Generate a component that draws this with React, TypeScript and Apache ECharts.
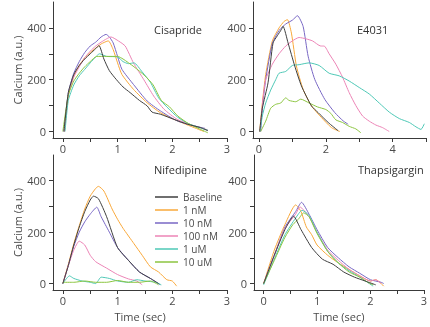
import React, { useEffect, useRef } from "react";
import * as echarts from "echarts";

const seriesNames = ["Baseline", "1 nM", "10 nM", "100 nM", "1 uM", "10 uM"];
const seriesColors = ["#3f3f3f", "#f9a83a", "#7867c4", "#ec84b6", "#4ec8b6", "#8cc540"];
const panelTitles = ["Cisapride", "E4031", "Nifedipine", "Thapsigargin"];
const xTicksShort = [0, 0.5, 1, 1.5, 2, 2.5, 3];
const xLabelsShort = [0, 1, 2, 3];
const xTicksLong = [0, 1, 2, 3, 4, 5];
const xLabelsLong = [0, 2, 4];
const yTicks = [0, 100, 200, 300, 400];
const yLabels = [0, 200, 400];

// Cisapride
const cisBaseline = [[0.02,0],[0.1,150],[0.2,220],[0.3,255],[0.4,280],[0.5,300],[0.6,320],[0.66,332],[0.75,280],[0.85,235],[0.98,200],[1.1,172],[1.23,150],[1.4,120],[1.54,99],[1.63,75],[1.78,67],[2.03,47],[2.28,28],[2.52,15],[2.65,3]];
const cis1nM = [[0.03,0],[0.1,140],[0.2,215],[0.3,255],[0.4,285],[0.5,305],[0.6,322],[0.7,338],[0.83,350],[0.92,316],[1.0,265],[1.08,220],[1.29,163],[1.54,111],[1.78,73],[2.03,47],[2.2,32],[2.4,15],[2.58,0]];
const cis10nM = [[0.02,0],[0.1,150],[0.2,225],[0.3,270],[0.4,305],[0.5,330],[0.6,345],[0.7,365],[0.79,375],[0.85,365],[0.92,342],[1.0,290],[1.08,240],[1.29,182],[1.54,118],[1.78,80],[2.09,41],[2.4,22],[2.6,12]];
const cis100nM = [[0.03,0],[0.1,140],[0.2,210],[0.3,250],[0.4,285],[0.5,310],[0.6,330],[0.7,345],[0.8,358],[0.88,365],[1.02,349],[1.14,330],[1.29,265],[1.48,200],[1.66,137],[1.85,86],[2.09,47],[2.4,22],[2.65,6]];
const cis1uM = [[0.04,0],[0.1,120],[0.2,180],[0.3,215],[0.4,240],[0.5,265],[0.6,288],[0.67,300],[0.8,290],[1.0,288],[1.1,270],[1.2,262],[1.3,265],[1.45,230],[1.6,190],[1.75,130],[1.9,95],[2.1,55],[2.3,30],[2.5,15],[2.65,5]];
const cis10uM = [[0.0,0],[0.1,140],[0.2,195],[0.3,225],[0.4,250],[0.5,270],[0.62,290],[0.8,290],[1.0,290],[1.1,280],[1.3,250],[1.5,215],[1.65,180],[1.8,120],[1.95,95],[2.1,60],[2.3,30],[2.5,10],[2.65,-5]];

// E4031
const e4Baseline = [[0.02,0],[0.1,90],[0.27,188],[0.42,342],[0.55,370],[0.67,394],[0.72,406],[0.87,342],[1.07,253],[1.27,176],[1.57,99],[1.77,73],[2.07,35],[2.37,3]];
const e41nM = [[0.02,0],[0.1,110],[0.2,220],[0.4,350],[0.6,400],[0.75,425],[0.85,432],[0.97,380],[1.12,253],[1.32,163],[1.57,99],[1.87,54],[2.17,15],[2.42,0]];
const e410nM = [[0.05,0],[0.1,90],[0.2,200],[0.4,340],[0.6,390],[0.8,415],[1.0,430],[1.15,447],[1.32,406],[1.47,291],[1.67,201],[1.97,124],[2.27,73],[2.52,41],[2.67,28]];
const e4100nM = [[0.03,0],[0.1,100],[0.2,200],[0.4,260],[0.6,300],[0.8,330],[1.0,350],[1.2,363],[1.4,358],[1.6,350],[1.85,330],[1.95,330],[2.1,300],[2.3,260],[2.5,210],[2.7,150],[2.9,100],[3.1,60],[3.3,40],[3.5,25],[3.7,15],[3.9,0]];
const e41uM = [[0.03,0],[0.1,60],[0.2,110],[0.35,160],[0.5,200],[0.6,225],[0.8,232],[1.0,255],[1.2,258],[1.5,265],[1.8,255],[2.1,225],[2.4,215],[2.7,195],[3.0,170],[3.3,145],[3.6,110],[3.9,75],[4.2,50],[4.5,35],[4.7,18],[4.85,8],[4.95,30]];
const e410uM = [[0.05,0],[0.2,40],[0.35,90],[0.5,105],[0.65,110],[0.8,130],[0.9,120],[1.1,115],[1.25,125],[1.5,110],[1.75,95],[2.0,85],[2.15,70],[2.3,45],[2.5,35],[2.7,20],[2.9,10],[3.05,-5]];

// Nifedipine
const nifBaseline = [[0,0],[0.1,70],[0.2,150],[0.3,220],[0.4,280],[0.5,325],[0.56,340],[0.65,330],[0.8,260],[1.0,140],[1.2,90],[1.4,45],[1.6,20],[1.75,0]];
const nif1nM = [[0,0],[0.1,75],[0.2,155],[0.3,225],[0.4,290],[0.5,340],[0.6,370],[0.65,378],[0.75,360],[0.9,290],[1.0,250],[1.1,215],[1.3,155],[1.45,110],[1.6,65],[1.75,45],[1.9,15],[2.0,10],[2.08,-10]];
const nif10nM = [[0,0],[0.1,70],[0.2,145],[0.3,200],[0.4,240],[0.5,270],[0.62,297],[0.7,260],[0.85,200],[1.0,140],[1.2,90],[1.4,45],[1.6,20],[1.78,-5]];
const nif100nM = [[0,0],[0.1,70],[0.2,130],[0.3,165],[0.4,150],[0.5,110],[0.6,85],[0.8,60],[1.0,35],[1.2,18],[1.35,10],[1.45,-5]];
const nif1uM = [[0,0],[0.05,15],[0.12,30],[0.2,20],[0.35,10],[0.5,5],[0.6,0],[0.7,25],[0.85,20],[1.0,10],[1.2,5],[1.35,15],[1.5,10],[1.7,5],[1.8,-5]];
const nif10uM = [[0,5],[0.2,5],[0.4,10],[0.6,5],[0.8,5],[1.0,12],[1.2,5],[1.4,5],[1.6,10],[1.75,-5]];

// Thapsigargin
const thaBaseline = [[0,0],[0.2,110],[0.4,210],[0.56,262],[0.7,210],[0.9,140],[1.1,95],[1.3,75],[1.5,45],[1.7,25],[1.9,10],[2.1,-5]];
const tha1nM = [[0,0],[0.2,130],[0.4,230],[0.6,306],[0.7,280],[0.8,220],[0.9,190],[1.0,150],[1.2,110],[1.4,80],[1.6,55],[1.8,30],[2.0,10],[2.1,15],[2.25,-10]];
const tha10nM = [[0,0],[0.2,110],[0.4,220],[0.6,280],[0.71,316],[0.85,270],[1.0,210],[1.2,140],[1.4,100],[1.6,65],[1.8,40],[2.0,15],[2.2,5],[2.25,0]];
const tha100nM = [[0,0],[0.2,110],[0.4,215],[0.6,270],[0.68,298],[0.85,260],[1.0,200],[1.2,130],[1.4,90],[1.6,55],[1.8,30],[2.0,10],[2.1,15],[2.2,0]];
const tha1uM = [[0,-5],[0.2,95],[0.4,190],[0.6,255],[0.72,285],[0.85,265],[1.0,200],[1.2,125],[1.4,80],[1.6,50],[1.8,25],[2.05,-10]];
const tha10uM = [[0,0],[0.2,90],[0.4,180],[0.55,230],[0.65,250],[0.75,275],[0.85,260],[1.0,195],[1.2,125],[1.4,80],[1.6,45],[1.8,25],[1.95,5],[2.05,-5]];

const panels = [
  [cisBaseline, cis1nM, cis10nM, cis100nM, cis1uM, cis10uM],
  [e4Baseline, e41nM, e410nM, e4100nM, e41uM, e410uM],
  [nifBaseline, nif1nM, nif10nM, nif100nM, nif1uM, nif10uM],
  [thaBaseline, tha1nM, tha10nM, tha100nM, tha1uM, tha10uM],
];

const FONT = "Open Sans";
const AXIS_COLOR = "#3a3a3a";
const TEXT_COLOR = "#4a4a4a";

export default function App() {
  const ref = useRef<HTMLDivElement>(null);
  useEffect(() => {
    if (!ref.current) return;
    const chart = echarts.init(ref.current, null, { renderer: "svg" });
    const grids = [
      { left: 53, top: 2, width: 174, height: 136 },
      { left: 253, top: 2, width: 173, height: 136 },
      { left: 53, top: 155, width: 174, height: 135 },
      { left: 254, top: 155, width: 171, height: 135 },
    ];
    const axisLine = { show: true, lineStyle: { color: AXIS_COLOR, width: 1 } };
    const xAxis = grids.map((_, i) => {
      const long = i === 1;
      return {
        type: "value",
        gridIndex: i,
        min: -0.18,
        max: long ? 5 : 3,
        axisLine: { ...axisLine, onZero: false },
        splitLine: { show: false },
        axisTick: { show: true, inside: false, length: 4, lineStyle: { color: AXIS_COLOR }, customValues: long ? xTicksLong : xTicksShort },
        axisLabel: { margin: 5, color: TEXT_COLOR, fontSize: 11, fontFamily: FONT, customValues: long ? xLabelsLong : xLabelsShort },
        name: i >= 2 ? "Time (sec)" : "",
        nameLocation: "middle",
        nameGap: 21,
        nameTextStyle: { color: TEXT_COLOR, fontSize: 11, fontFamily: FONT },
      };
    });
    const yAxis = grids.map((_, i) => ({
      type: "value",
      gridIndex: i,
      min: -25,
      max: 500,
      axisLine: { ...axisLine, onZero: false },
      splitLine: { show: false },
      axisTick: { show: true, inside: false, length: 4, lineStyle: { color: AXIS_COLOR }, customValues: yTicks },
      axisLabel: { margin: 7, color: TEXT_COLOR, fontSize: 11, fontFamily: FONT, customValues: yLabels },
      name: i % 2 === 0 ? "Calcium (a.u.)" : "",
      nameLocation: "middle",
      nameGap: 27,
      nameTextStyle: { color: TEXT_COLOR, fontSize: 11, fontFamily: FONT },
    }));
    const series: any[] = [];
    panels.forEach((panel, pi) => {
      panel.forEach((data, si) => {
        series.push({
          type: "line",
          name: seriesNames[si],
          xAxisIndex: pi,
          yAxisIndex: pi,
          data,
          showSymbol: false,
          smooth: 0.2,
          color: seriesColors[si],
          lineStyle: { width: 1, color: seriesColors[si] },
          z: si === 0 ? 10 : 2,
        });
      });
    });
    const titlePos = [
      { left: 154, top: 24 },
      { left: 357, top: 24 },
      { left: 154, top: 164 },
      { left: 358, top: 164 },
    ];
    chart.setOption({
      animation: false,
      title: panelTitles.map((t, i) => ({
        text: t,
        left: titlePos[i].left,
        top: titlePos[i].top,
        padding: 0,
        textStyle: { fontSize: 11, fontWeight: "normal", color: "#333", fontFamily: FONT },
      })),
      legend: {
        orient: "vertical",
        left: 155,
        top: 191,
        itemWidth: 23,
        itemHeight: 1.5,
        itemGap: 1,
        icon: "rect",
        padding: 0,
        data: seriesNames,
        textStyle: { fontSize: 10, color: TEXT_COLOR, fontFamily: FONT, lineHeight: 12 },
      },
      grid: grids,
      xAxis,
      yAxis,
      series,
    });
    return () => chart.dispose();
  }, []);
  return <div ref={ref} style={{ position: "fixed", left: 0, top: 0, width: 430, height: 327 }} />;
}
